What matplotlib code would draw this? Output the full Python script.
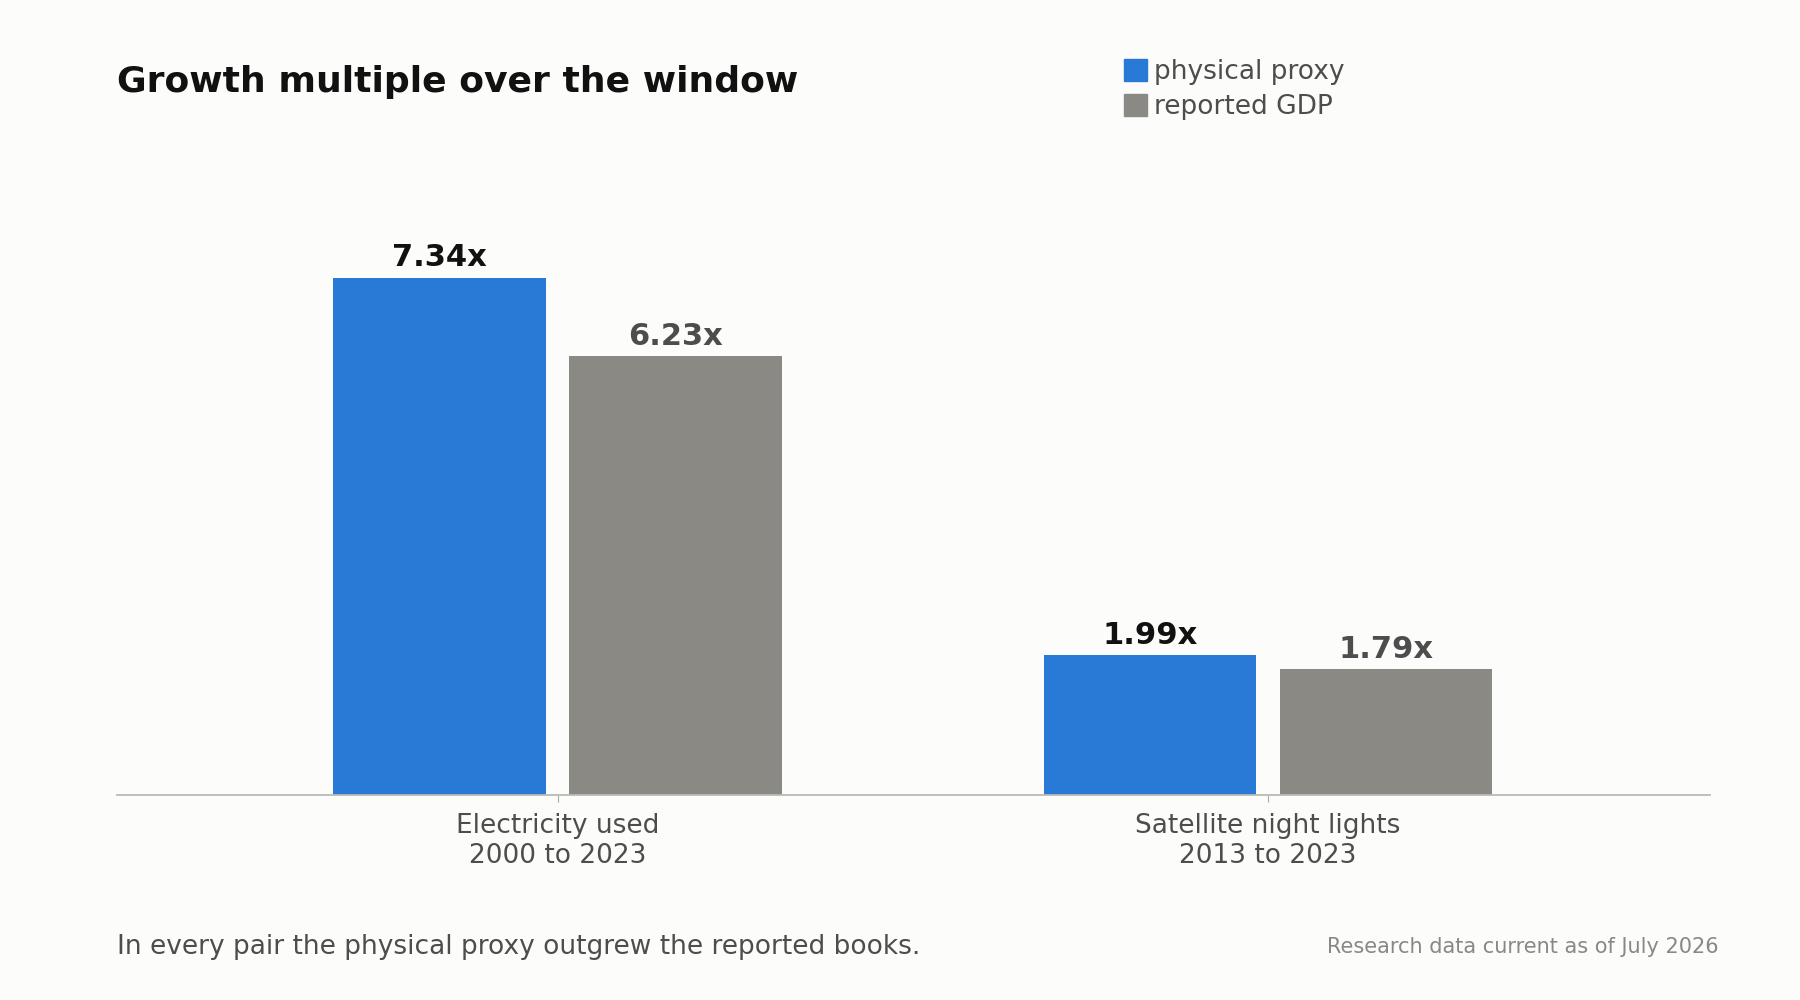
import matplotlib.pyplot as plt
import numpy as np
import matplotlib.patches as mpatches

categories = ['Electricity used\n2000 to 2023', 'Satellite night lights\n2013 to 2023']
proxy_vals = [7.34, 1.99]
gdp_vals = [6.23, 1.79]
series_names = ['physical proxy', 'reported GDP']

BLUE = '#2979d6'
GRAY = '#8a8983'
BG = '#fcfcfa'
TXT = '#4d4d4d'

fig = plt.figure(figsize=(18, 10), dpi=100, facecolor=BG)
ax = fig.add_axes([0.065, 0.2046, 0.885, 0.623], facecolor=BG)

x = np.arange(len(categories))
width = 0.299
off = 0.166
b1 = ax.bar(x - off, proxy_vals, width=width, color=BLUE)
b2 = ax.bar(x + off, gdp_vals, width=width, color=GRAY)

for r, v in zip(b1, proxy_vals):
    ax.text(r.get_x() + r.get_width() / 2, v + 0.08, f'{v:.2f}x', ha='center', va='bottom',
            fontsize=22, fontweight='bold', color='#111111')
for r, v in zip(b2, gdp_vals):
    ax.text(r.get_x() + r.get_width() / 2, v + 0.08, f'{v:.2f}x', ha='center', va='bottom',
            fontsize=22, fontweight='bold', color=TXT)

ax.set_xlim(-0.620, 1.622)
ax.set_ylim(0, 8.84)
ax.set_xticks(x)
ax.set_xticklabels(categories, fontsize=19, color=TXT)
ax.tick_params(axis='x', length=5, color='#aaaaaa', pad=8)
ax.set_yticks([])
for s in ['top', 'right', 'left']:
    ax.spines[s].set_visible(False)
ax.spines['bottom'].set_color('#bbbbb5')
ax.spines['bottom'].set_linewidth(1.3)

fig.text(0.065, 0.918, 'Growth multiple over the window', fontsize=26, fontweight='bold',
         color='#111111', va='center')
handles = [mpatches.Patch(color=BLUE, label=series_names[0]),
           mpatches.Patch(color=GRAY, label=series_names[1])]
leg = fig.legend(handles=handles, loc='upper left', bbox_to_anchor=(0.611, 0.965), frameon=False,
                 fontsize=19, handlelength=0.9, handleheight=0.9, handletextpad=0.25,
                 labelspacing=0.35)
for t in leg.get_texts():
    t.set_color(TXT)

fig.text(0.065, 0.053, 'In every pair the physical proxy outgrew the reported books.',
         fontsize=19, color=TXT, va='center')
fig.text(0.955, 0.053, 'Research data current as of July 2026', fontsize=15,
         color='#888888', va='center', ha='right')

plt.savefig('out.png', facecolor=BG)
